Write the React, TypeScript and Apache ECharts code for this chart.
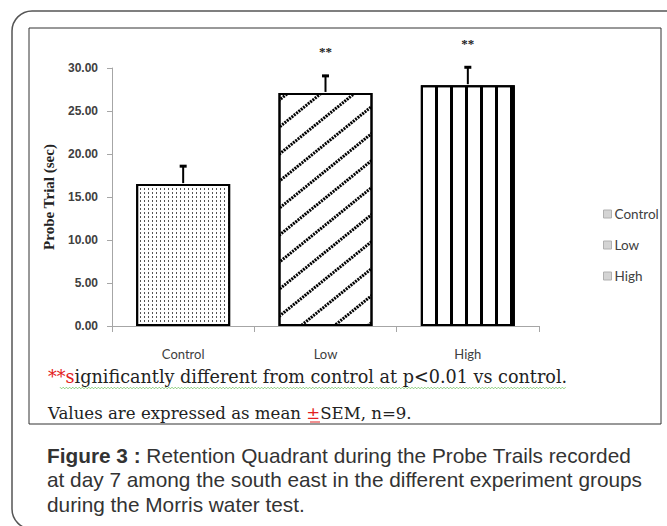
import React, { useEffect, useRef } from "react";
import * as echarts from "echarts";

const categories = ["Control", "Low", "High"];
const means = [16.5, 27.1, 28.0];
const sems = [2.2, 2.1, 2.2];
const marks = ["", "**", "**"];
const yMin = 0;
const yMax = 30;
const yInterval = 5;

const note1Red = "**s";
const note1Rest = "ignificantly different from control at p<0.01 vs control.";
const note2a = "Values are expressed as mean ";
const note2b = "\u00B1";
const note2c = "SEM, n=9.";
const captionBold = "Figure 3 :";
const captionLines = [
  " Retention Quadrant during the Probe Trails recorded",
  "at day 7 among the south east in the different experiment groups",
  "during the Morris water test.",
];

function zigzag(x0: number, x1: number, y: number, step: number, amp: number) {
  const pts: number[][] = [];
  let up = true;
  for (let x = x0; x <= x1; x += step) {
    pts.push([x, up ? y - amp : y + amp]);
    up = !up;
  }
  return pts;
}

export default function App() {
  const ref = useRef<HTMLDivElement>(null);
  useEffect(() => {
    const chart = echarts.init(ref.current!, null, { renderer: "svg" });
    const patterns: any[] = [
      {
        symbol: "rect",
        symbolSize: 1,
        dashArrayX: [1, 2.3],
        dashArrayY: [1.2, 1.3],
        color: "#555",
        backgroundColor: "#fff",
      },
      {
        symbol: "rect",
        symbolSize: 1,
        dashArrayX: [2, 1],
        dashArrayY: [2.2, 18],
        rotation: -0.68,
        color: "#000",
        backgroundColor: "#fff",
      },
      {
        symbol: "rect",
        symbolSize: 1,
        dashArrayX: [3, 11.3],
        dashArrayY: [1, 0],
        color: "#000",
        backgroundColor: "#fff",
      },
    ];
    const barSeries = categories.map((name, i) => ({
      name,
      type: "bar",
      barGap: "-100%",
      barWidth: 94,
      data: categories.map((_, j) => (j === i ? means[i] : "-")),
      itemStyle: {
        color: "#fff",
        borderColor: "#000",
        borderWidth: 2,
        decal: patterns[i],
      },
    }));
    const errSeries = {
      type: "custom",
      name: "err",
      z: 10,
      data: means.map((m, i) => [i, m, m + sems[i]]),
      renderItem: (params: any, api: any) => {
        const x = api.value(0);
        const lo = api.coord([x, api.value(1)]);
        const hi = api.coord([x, api.value(2)]);
        const mark = marks[params.dataIndex];
        const children: any[] = [
          {
            type: "line",
            shape: { x1: lo[0], y1: lo[1] - 1, x2: hi[0], y2: hi[1] },
            style: { stroke: "#000", lineWidth: 2 },
          },
          {
            type: "line",
            shape: { x1: hi[0] - 3.5, y1: hi[1] + 1, x2: hi[0] + 3.5, y2: hi[1] + 1 },
            style: { stroke: "#000", lineWidth: 3 },
          },
        ];
        if (mark) {
          children.push({
            type: "text",
            x: hi[0],
            y: hi[1] - 23,
            style: {
              text: mark,
              fill: "#222",
              font: "bold 13px 'Liberation Serif'",
              textAlign: "center",
              textVerticalAlign: "middle",
            },
          });
        }
        return { type: "group", children };
      },
    };

    const option: any = {
      animation: false,
      backgroundColor: "#fff",
      grid: { left: 112, right: 128, top: 68, bottom: 200 },
      legend: {
        orient: "vertical",
        left: 603,
        top: 207,
        padding: 0,
        icon: "rect",
        itemWidth: 8,
        itemHeight: 8,
        itemGap: 17,
        data: categories,
        itemStyle: { color: "#d4d4d4", borderColor: "#b0b0b0", borderWidth: 1, decal: "none" },
        textStyle: { fontFamily: "Lato", fontSize: 13.5, color: "#404040", padding: [0, 0, 0, -2] },
      },
      xAxis: {
        type: "category",
        data: categories,
        axisLine: { lineStyle: { color: "#a6a6a6", width: 1 } },
        axisTick: { show: true, length: 6, lineStyle: { color: "#a6a6a6" } },
        axisLabel: { margin: 21, fontFamily: "Lato", fontSize: 13, color: "#404040" },
      },
      yAxis: {
        type: "value",
        min: yMin,
        max: yMax,
        interval: yInterval,
        splitLine: { show: false },
        axisLine: { show: true, lineStyle: { color: "#a6a6a6", width: 1 } },
        axisTick: { show: true, length: 5, lineStyle: { color: "#a6a6a6" } },
        axisLabel: {
          margin: 14,
          formatter: (v: number) => v.toFixed(2),
          fontFamily: "'Liberation Sans Narrow', 'Liberation Sans'",
          fontWeight: "bold",
          fontSize: 12,
          color: "#404040",
        },
        name: "Probe Trial (sec)",
        nameLocation: "middle",
        nameGap: 56,
        nameTextStyle: {
          fontFamily: "'Liberation Serif'",
          fontWeight: "bold",
          fontSize: 15,
          color: "#222",
        },
      },
      series: [...barSeries, errSeries],
      graphic: [
        {
          type: "rect",
          shape: { x: 12, y: 11, width: 720, height: 518, r: 20 },
          style: { fill: "none", stroke: "#555", lineWidth: 1.5 },
          silent: true,
          z: -10,
        },
        {
          type: "rect",
          shape: { x: 29, y: 28, width: 632, height: 396 },
          style: { fill: "none", stroke: "#333", lineWidth: 1 },
          silent: true,
          z: -10,
        },
        {
          type: "text",
          x: 48,
          y: 377,
          style: {
            text: "{r|" + note1Red + "}{n|" + note1Rest + "}",
            textVerticalAlign: "middle",
            rich: {
              r: { fill: "#e32020", fontFamily: "'DejaVu Serif'", fontSize: 17.6 },
              n: { fill: "#222", fontFamily: "'DejaVu Serif'", fontSize: 17.6 },
            },
          },
        },
        {
          type: "polyline",
          shape: { points: zigzag(60, 566, 388, 1.6, 0.8) },
          style: { stroke: "#6cbf5a", lineWidth: 0.8, fill: "none" },
          silent: true,
        },
        {
          type: "text",
          x: 48,
          y: 413,
          style: {
            text: "{n|" + note2a + "}{r|" + note2b + "}{n|" + note2c + "}",
            textVerticalAlign: "middle",
            rich: {
              r: { fill: "#e32020", fontFamily: "'DejaVu Serif'", fontSize: 16.6 },
              n: { fill: "#222", fontFamily: "'DejaVu Serif'", fontSize: 16.6 },
            },
          },
        },
        {
          type: "line",
          shape: { x1: 310, y1: 422, x2: 320, y2: 422 },
          style: { stroke: "#e32020", lineWidth: 1 },
          silent: true,
        },
        {
          type: "text",
          x: 47,
          y: 455,
          style: {
            text: "{b|" + captionBold + "}{n|" + captionLines[0] + "}",
            textVerticalAlign: "middle",
            rich: {
              b: { fill: "#333", fontFamily: "'Liberation Sans'", fontSize: 20.8, fontWeight: "bold" },
              n: { fill: "#333", fontFamily: "'Liberation Sans'", fontSize: 20.8 },
            },
          },
        },
        {
          type: "text",
          x: 47,
          y: 479,
          style: {
            text: captionLines[1],
            fill: "#333",
            font: "20.8px 'Liberation Sans'",
            textVerticalAlign: "middle",
          },
        },
        {
          type: "text",
          x: 47,
          y: 504,
          style: {
            text: captionLines[2],
            fill: "#333",
            font: "20.8px 'Liberation Sans'",
            textVerticalAlign: "middle",
          },
        },
      ],
    };
    chart.setOption(option);
    return () => chart.dispose();
  }, []);
  return (
    <div
      ref={ref}
      style={{ position: "fixed", left: 0, top: 0, width: 667, height: 526, background: "#fff" }}
    />
  );
}
